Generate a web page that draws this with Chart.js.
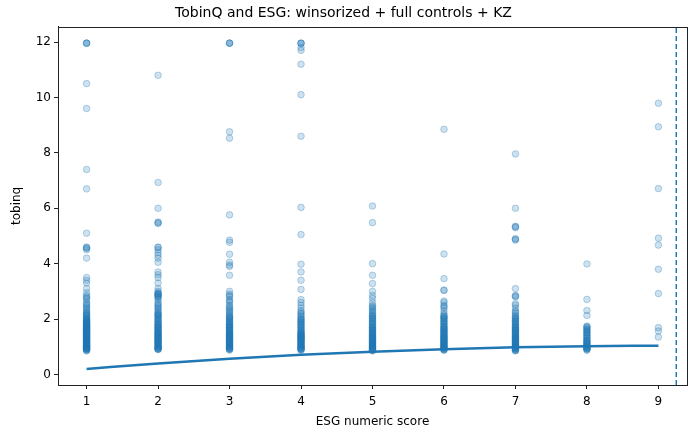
<!DOCTYPE html>
<html>
<head>
<meta charset="utf-8">
<script src="https://cdn.jsdelivr.net/npm/chart.js@4"></script>
<style>
  html, body { margin: 0; padding: 0; background: #fff; }
  #wrap { width: 693px; height: 432px; }
</style>
</head>
<body>
<div id="wrap"><canvas id="myChart"></canvas></div>
<script>
const esgScores = [1, 2, 3, 4, 5, 6, 7, 8, 9]

const tobinq1 = [11.96, 11.96, 11.96, 10.5, 9.6, 7.4, 6.7, 5.1, 4.6, 4.58, 4.55, 4.5, 4.2, 3.5, 3.4, 3.3, 3.1, 2.95, 2.85, 2.8, 2.75, 2.7, 2.6, 2.55, 2.5, 2.45, 2.4, 2.35, 2.3, 2.25, 2.2, 2.15, 2.1, 2.05, 2.0, 1.98, 1.95, 1.9, 1.88, 1.85, 1.82, 1.8, 1.78, 1.75, 1.72, 1.7, 1.68, 1.65, 1.62, 1.6, 1.58, 1.55, 1.52, 1.5, 1.48, 1.45, 1.42, 1.4, 1.38, 1.35, 1.32, 1.3, 1.28, 1.25, 1.22, 1.2, 1.18, 1.15, 1.12, 1.1, 1.08, 1.05, 1.02, 1.0, 0.97, 0.95, 0.92, 0.9, 0.87, 0.85,
  2.2, 2.12, 2.02, 1.96, 1.91, 1.86, 1.81, 1.76, 1.71, 1.66, 1.61, 1.56, 1.51, 1.46, 1.41, 1.36, 1.31, 1.26, 1.21, 1.16, 1.11, 1.06, 1.01, 0.96, 0.93, 0.89, 1.74, 1.64, 1.54, 1.44, 1.34, 1.24, 1.14, 1.04, 0.99, 0.94, 1.43, 1.27, 1.17, 1.07]
const tobinq2 = [10.8, 6.93, 6.0, 5.5, 5.48, 5.45, 4.6, 4.58, 4.5, 4.4, 4.3, 4.2, 4.05, 3.7, 3.6, 3.5, 3.3, 3.1, 3.0, 2.95, 2.9, 2.85, 2.8, 2.75, 2.7, 2.6, 2.5, 2.45, 2.4, 2.3, 2.2, 2.15, 2.1, 2.05, 2.0, 1.95, 1.9, 1.85, 1.8, 1.75, 1.7, 1.65, 1.6, 1.55, 1.5, 1.45, 1.4, 1.35, 1.3, 1.25, 1.2, 1.15, 1.1, 1.05, 1.0, 0.97, 0.95, 0.92, 0.9,
  2.92, 2.88, 2.82, 2.55, 2.35, 2.25, 2.18, 2.12, 2.02, 1.92, 1.82, 1.72, 1.62, 1.52, 1.42, 1.32, 1.22, 1.12, 1.02, 0.93, 1.78, 1.68, 1.58, 1.48, 1.38, 1.28, 1.18, 1.08, 0.98, 0.91, 1.47, 1.33, 1.23, 1.13]
const tobinq3 = [11.96, 11.96, 11.96, 8.76, 8.53, 5.76, 4.85, 4.77, 4.34, 4.05, 3.95, 3.9, 3.58, 3.0, 2.9, 2.85, 2.8, 2.7, 2.65, 2.6, 2.5, 2.4, 2.35, 2.3, 2.2, 2.1, 2.05, 2.0, 1.95, 1.9, 1.85, 1.8, 1.75, 1.7, 1.65, 1.6, 1.55, 1.5, 1.45, 1.4, 1.35, 1.3, 1.25, 1.2, 1.15, 1.1, 1.05, 1.0, 0.97, 0.95, 0.92, 0.9,
  2.45, 2.25, 2.15, 2.08, 2.02, 1.92, 1.82, 1.72, 1.62, 1.52, 1.42, 1.32, 1.22, 1.12, 1.02, 0.93, 0.88, 1.78, 1.68, 1.58, 1.48, 1.38, 1.28, 1.18, 1.08, 0.98, 1.44, 1.34, 1.24, 1.14, 1.04]
const tobinq4 = [11.96, 11.96, 11.95, 11.8, 11.7, 11.2, 10.1, 8.6, 6.03, 5.05, 3.98, 3.7, 3.4, 3.07, 2.7, 2.6, 2.5, 2.4, 2.3, 2.25, 2.2, 2.1, 2.05, 2.0, 1.95, 1.9, 1.85, 1.8, 1.75, 1.7, 1.65, 1.6, 1.55, 1.5, 1.45, 1.42, 1.4, 1.35, 1.3, 1.28, 1.25, 1.2, 1.15, 1.1, 1.05, 1.0, 0.97, 0.95, 0.92, 0.9, 0.88,
  2.15, 1.98, 1.88, 1.78, 1.68, 1.58, 1.48, 1.38, 1.32, 1.22, 1.12, 1.02, 0.93, 0.89, 1.52, 1.44, 1.36, 1.26, 1.16, 1.06, 0.99, 1.33, 1.18, 1.08]
const tobinq5 = [6.08, 5.48, 4.0, 3.58, 3.28, 3.0, 2.85, 2.75, 2.6, 2.5, 2.45, 2.4, 2.3, 2.2, 2.15, 2.1, 2.05, 2.0, 1.95, 1.9, 1.85, 1.8, 1.75, 1.7, 1.65, 1.6, 1.55, 1.5, 1.45, 1.4, 1.35, 1.3, 1.25, 1.2, 1.15, 1.1, 1.05, 1.0, 0.97, 0.95, 0.92, 0.9, 0.87, 0.85,
  2.35, 2.25, 2.12, 2.02, 1.92, 1.82, 1.72, 1.62, 1.52, 1.42, 1.32, 1.22, 1.12, 1.02, 0.93, 0.88, 1.68, 1.58, 1.48, 1.38, 1.28, 1.18, 1.08, 0.98, 1.34, 1.24, 1.14, 1.04]
const tobinq6 = [8.85, 4.35, 3.46, 3.05, 3.03, 2.65, 2.6, 2.5, 2.45, 2.4, 2.3, 2.2, 2.1, 2.05, 2.0, 1.95, 1.9, 1.85, 1.8, 1.75, 1.7, 1.65, 1.6, 1.55, 1.5, 1.45, 1.4, 1.35, 1.3, 1.25, 1.2, 1.15, 1.1, 1.05, 1.0, 0.97, 0.95, 0.92, 0.9, 0.87,
  2.15, 2.08, 2.02, 1.92, 1.82, 1.72, 1.62, 1.52, 1.42, 1.32, 1.22, 1.12, 1.02, 0.93, 0.89, 1.68, 1.58, 1.48, 1.38, 1.28, 1.18, 1.08, 0.98, 1.34, 1.24, 1.14, 1.04]
const tobinq7 = [7.96, 6.0, 5.35, 5.33, 5.3, 4.9, 4.88, 4.85, 3.1, 2.85, 2.83, 2.8, 2.55, 2.5, 2.4, 2.3, 2.2, 2.1, 2.05, 2.0, 1.95, 1.9, 1.85, 1.8, 1.75, 1.7, 1.65, 1.6, 1.55, 1.5, 1.45, 1.4, 1.35, 1.3, 1.25, 1.2, 1.15, 1.1, 1.05, 1.0, 0.97, 0.95, 0.92, 0.9, 0.87, 0.85,
  2.25, 2.12, 2.02, 1.92, 1.82, 1.72, 1.62, 1.52, 1.42, 1.32, 1.22, 1.12, 1.02, 0.93, 0.88, 1.68, 1.58, 1.48, 1.38, 1.28, 1.18, 1.08, 0.98, 1.34, 1.24, 1.14, 1.04]
const tobinq8 = [3.99, 2.71, 2.31, 2.13, 1.75, 1.7, 1.65, 1.6, 1.55, 1.5, 1.45, 1.4, 1.35, 1.3, 1.25, 1.2, 1.15, 1.1, 1.05, 1.0, 0.97, 0.95, 0.92, 0.9, 0.87,
  1.72, 1.62, 1.52, 1.42, 1.32, 1.22, 1.12, 1.02, 0.93, 1.18, 1.08, 0.98]
const tobinq9 = [9.79, 8.94, 6.71, 4.92, 4.67, 3.8, 2.92, 1.69, 1.57, 1.35]

// KZ smoothed fit at each score
const kzFit = [0.2, 0.4, 0.57, 0.71, 0.82, 0.91, 0.98, 1.02, 1.04]
const cutoffX = 9.25

const xTicks = [1, 2, 3, 4, 5, 6, 7, 8, 9]
const yTicks = [0, 2, 4, 6, 8, 10, 12]

const tobinqByScore = [tobinq1, tobinq2, tobinq3, tobinq4, tobinq5, tobinq6, tobinq7, tobinq8, tobinq9]
const scatterPoints = []
esgScores.forEach((s, i) => {
  tobinqByScore[i].forEach(v => scatterPoints.push({ x: s, y: v }))
})

const yMin = -0.38, yMax = 12.55

const frameBox = {
  id: 'frameBox',
  afterDraw(chart) {
    const a = chart.chartArea
    const c = chart.ctx
    c.save()
    c.strokeStyle = '#222'
    c.lineWidth = 1
    c.strokeRect(Math.round(a.left) + 0.5, Math.round(a.top) + 0.5, Math.round(a.right - a.left), Math.round(a.bottom - a.top))
    c.restore()
  }
}

Chart.defaults.font.family = "'DejaVu Sans', sans-serif"
Chart.defaults.color = '#000'

new Chart(document.getElementById('myChart'), {
  type: 'scatter',
  data: {
    datasets: [
      {
        label: 'KZ fit',
        type: 'line',
        data: esgScores.map((s, i) => ({ x: s, y: kzFit[i] })),
        borderColor: '#1f77b4',
        borderWidth: 2.5,
        pointRadius: 0,
        cubicInterpolationMode: 'monotone',
        fill: false,
        order: 0
      },
      {
        label: 'cutoff',
        type: 'line',
        data: [{ x: cutoffX, y: yMin }, { x: cutoffX, y: yMax }],
        borderColor: '#1f77b4',
        borderWidth: 1.5,
        borderDash: [5, 3],
        pointRadius: 0,
        fill: false,
        order: 0
      },
      {
        label: 'obs',
        data: scatterPoints,
        backgroundColor: 'rgba(31, 119, 180, 0.22)',
        borderColor: 'rgba(31, 119, 180, 0.3)',
        borderWidth: 1,
        pointRadius: 3.3,
        order: 1
      }
    ]
  },
  options: {
    responsive: true,
    maintainAspectRatio: false,
    animation: false,
    layout: { padding: { left: 0, right: 6, top: 0, bottom: 0 } },
    plugins: {
      legend: { display: false },
      tooltip: { enabled: false },
      title: {
        display: true,
        text: 'TobinQ and ESG: winsorized + full controls + KZ',
        font: { size: 14, weight: 'normal' },
        color: '#000',
        padding: { top: 5, bottom: 5 }
      }
    },
    scales: {
      x: {
        type: 'linear',
        min: 0.6,
        max: 9.4,
        afterBuildTicks: (scale) => { scale.ticks = xTicks.map(v => ({ value: v })) },
        afterFit: (scale) => { scale.height = 47 },
        grid: { drawOnChartArea: false, drawTicks: true, tickLength: 4, color: '#222' },
        border: { display: true, color: '#222' },
        ticks: { font: { size: 12 }, color: '#000', padding: 6, maxRotation: 0 },
        title: { display: true, text: 'ESG numeric score', font: { size: 12 }, color: '#000', padding: { top: 2, bottom: 3 } }
      },
      y: {
        type: 'linear',
        min: yMin,
        max: yMax,
        afterBuildTicks: (scale) => { scale.ticks = yTicks.map(v => ({ value: v })) },
        afterFit: (scale) => { scale.width = 58 },
        grid: { drawOnChartArea: false, drawTicks: true, tickLength: 4, color: '#222' },
        border: { display: true, color: '#222' },
        ticks: { font: { size: 12 }, color: '#000', padding: 3 },
        title: { display: true, text: 'tobinq', font: { size: 12 }, color: '#000', padding: { top: 10, bottom: 2 } }
      }
    }
  },
  plugins: [frameBox]
});
</script>
</body>
</html>
